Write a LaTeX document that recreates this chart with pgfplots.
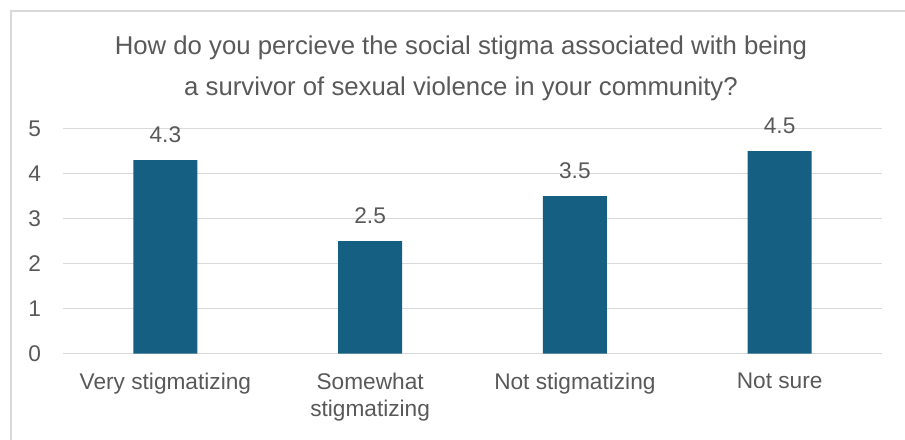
\documentclass[border=0pt]{standalone}
\usepackage{pgfplots}
\pgfplotsset{compat=1.18}
\usepackage{fontspec}
\setmainfont{Liberation Sans}
\definecolor{barc}{HTML}{156082}
\definecolor{txt}{HTML}{595959}
\definecolor{gridc}{HTML}{D9D9D9}
\begin{document}
\begin{tikzpicture}
\useasboundingbox (0,0) rectangle (678.75pt,329.25pt);
\fill[white] (0,0) rectangle (678.75pt,329.25pt);
\draw[gridc, line width=1pt] (8.25pt,-5pt) -- (8.25pt,321pt) -- (690pt,321pt);
\node[align=center, text=txt, font=\fontsize{19.3}{30.75}\selectfont] at (345.75pt,277.85pt)
  {How do you percieve the social stigma associated with being\\a survivor of sexual violence in your community?};
\begin{axis}[
  at={(47.25pt,64.125pt)}, anchor=south west,
  scale only axis, width=614.25pt, height=168.75pt,
  xmin=-0.5, xmax=3.5, ymin=0, ymax=5,
  clip=false,
  axis line style={draw=none},
  major tick length=0pt,
  ymajorgrids, grid style={gridc, line width=1pt},
  ytick={0,1,2,3,4,5},
  xtick={0,1,2,3},
  xticklabels={Very stigmatizing, Somewhat\\stigmatizing, Not stigmatizing, Not sure},
  tick label style={font=\fontsize{17}{20.5}\selectfont, text=txt},
  /pgf/number format/assume math mode=true,
  xticklabel style={align=center, anchor=north, yshift=-11pt},
  yticklabel style={anchor=east, xshift=-13pt},
  ybar, bar width=48pt, bar shift=0pt,
  nodes near coords,
  nodes near coords style={font=\fontsize{17}{20}\selectfont, text=txt, anchor=center, yshift=18.75pt, /pgf/number format/fixed, /pgf/number format/precision=1},
]
\addplot[fill=barc, draw=none] coordinates {(0,4.3) (1,2.5) (2,3.5) (3,4.5)};
\end{axis}
\end{tikzpicture}
\end{document}
